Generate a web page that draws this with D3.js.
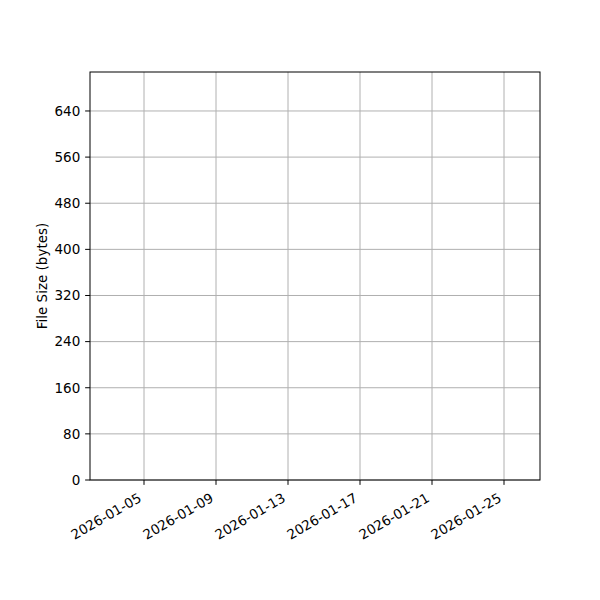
<!DOCTYPE html>
<html>
<head>
<meta charset="utf-8">
<script src="https://cdn.jsdelivr.net/npm/d3@7"></script>
<style>
  body { margin: 0; background: #fff; }
  text { font-family: "DejaVu Sans", sans-serif; }
</style>
</head>
<body>
<div id="chart"></div>
<script>
// data (the plot has no points to show)
const dates = [];
const sizes = [];
const yTicks = [0, 80, 160, 240, 320, 400, 480, 560, 640];
const xTicks = ['2026-01-05', '2026-01-09', '2026-01-13', '2026-01-17', '2026-01-21', '2026-01-25'];
const xDomain = ['2026-01-02', '2026-01-27'];
const yDomain = [0, 707.6];

const width = 600, height = 600;
const mLeft = 90, mRight = 540, mTop = 72, mBottom = 480;
const fs = 13.5, tickLen = 4.86, pad = 4.86;
const parse = d3.utcParse('%Y-%m-%d');

const svg = d3.select('#chart').append('svg')
  .attr('width', width)
  .attr('height', height);

const x = d3.scaleUtc().domain(xDomain.map(parse)).range([mLeft, mRight]);
const y = d3.scaleLinear().domain(yDomain).range([mBottom, mTop]);

// grid
svg.append('g').selectAll('line').data(xTicks).join('line')
  .attr('x1', d => x(parse(d))).attr('x2', d => x(parse(d)))
  .attr('y1', mTop).attr('y2', mBottom)
  .attr('stroke', '#b0b0b0').attr('stroke-width', 1);
svg.append('g').selectAll('line').data(yTicks).join('line')
  .attr('x1', mLeft).attr('x2', mRight)
  .attr('y1', d => y(d)).attr('y2', d => y(d))
  .attr('stroke', '#b0b0b0').attr('stroke-width', 1);

// series (empty)
svg.append('path')
  .datum(dates.map((d, i) => [parse(d), sizes[i]]))
  .attr('fill', 'none')
  .attr('stroke', '#1f77b4')
  .attr('stroke-width', 1.5)
  .attr('d', d3.line().x(d => x(d[0])).y(d => y(d[1])));

// y axis ticks + labels
const yg = svg.append('g');
yg.selectAll('line').data(yTicks).join('line')
  .attr('x1', mLeft - tickLen).attr('x2', mLeft)
  .attr('y1', d => y(d)).attr('y2', d => y(d))
  .attr('stroke', '#000').attr('stroke-width', 1);
yg.selectAll('text').data(yTicks).join('text')
  .attr('x', mLeft - tickLen - pad)
  .attr('y', d => y(d))
  .attr('dy', '0.36em')
  .attr('text-anchor', 'end')
  .attr('font-size', fs)
  .text(d => d);

// x axis ticks + rotated labels
const xg = svg.append('g');
xg.selectAll('line').data(xTicks).join('line')
  .attr('x1', d => x(parse(d))).attr('x2', d => x(parse(d)))
  .attr('y1', mBottom).attr('y2', mBottom + tickLen)
  .attr('stroke', '#000').attr('stroke-width', 1);
const h = fs * 1.17;
xg.selectAll('text').data(xTicks).join('text')
  .attr('transform', d => `translate(${x(parse(d))},${mBottom + tickLen + pad + h * Math.cos(Math.PI / 6)}) rotate(-30)`)
  .attr('y', -fs * 0.236)
  .attr('text-anchor', 'end')
  .attr('font-size', fs)
  .text(d => d);

// frame
svg.append('rect')
  .attr('x', mLeft).attr('y', mTop)
  .attr('width', mRight - mLeft).attr('height', mBottom - mTop)
  .attr('fill', 'none').attr('stroke', '#000').attr('stroke-width', 1);

// y label
svg.append('text')
  .attr('transform', `translate(42,${(mTop + mBottom) / 2}) rotate(-90)`)
  .attr('dy', '0.36em')
  .attr('text-anchor', 'middle')
  .attr('font-size', fs)
  .text('File Size (bytes)');
</script>
</body>
</html>
